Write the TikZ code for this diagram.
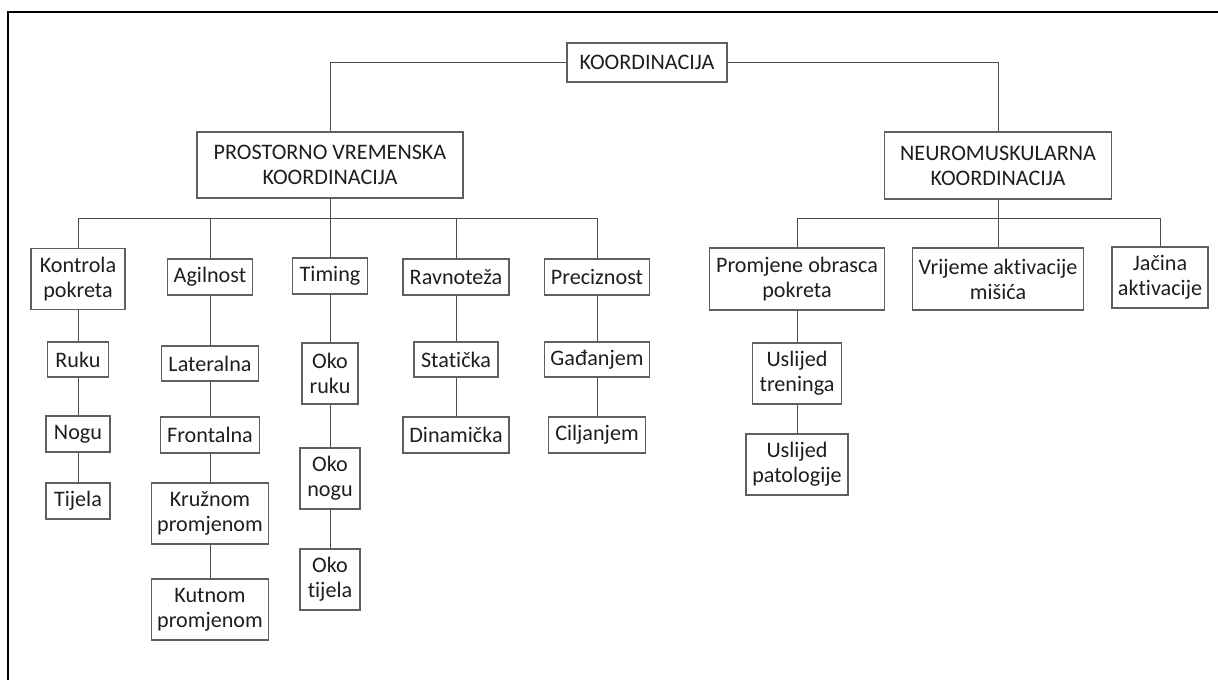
\documentclass[tikz,border=0pt]{standalone}
\usepackage{fontspec}
\setmainfont{Carlito}[Ligatures=NoCommon]

\definecolor{boxline}{RGB}{95,95,95}
\definecolor{wireline}{RGB}{75,75,75}
\definecolor{txt}{RGB}{30,30,30}

\tikzset{
    box/.style={draw=boxline, line width=0.8pt, text=txt, align=center, inner sep=0pt,
        font=\fontsize{12.6}{14.2}\selectfont},
    wire/.style={draw=wireline, line width=0.55pt},
}

\begin{document}
\begin{tikzpicture}[x=0.02cm, y=-0.02cm]
        \useasboundingbox (0,0) rectangle (1218,680);
        \draw[black, line width=1.1pt] (1218,12) -- (8,12) -- (8,680);

        \node[box, minimum width=3.2cm, minimum height=0.78cm] (koord) at (647,62.5) {KOORDINACIJA};

        \node[box, minimum width=5.32cm, minimum height=1.32cm] (pvk) at (330,165) {PROSTORNO VREMENSKA\\KOORDINACIJA};
        \node[box, minimum width=4.54cm, minimum height=1.34cm] (nk) at (998,165.5) {NEUROMUSKULARNA\\KOORDINACIJA};

        \node[box, minimum width=1.88cm, minimum height=1.22cm] (kontrola) at (78,279) {Kontrola\\pokreta};
        \node[box, minimum width=1.70cm, minimum height=0.72cm] (agilnost) at (210,277) {Agilnost};
        \node[box, minimum width=1.50cm, minimum height=0.72cm] (timing) at (330,276) {Timing};
        \node[box, minimum width=2.12cm, minimum height=0.72cm] (ravnoteza) at (456,277) {Ravnoteža};
        \node[box, minimum width=2.10cm, minimum height=0.72cm] (preciznost) at (597,277) {Preciznost};

        \node[box, minimum width=3.50cm, minimum height=1.24cm] (promjene) at (797,279) {Promjene obrasca\\pokreta};
        \node[box, minimum width=3.42cm, minimum height=1.24cm] (vrijeme) at (998,279) {Vrijeme aktivacije\\mišića};
        \node[box, minimum width=1.92cm, minimum height=1.22cm] (jacina) at (1160,277.5) {Jačina\\aktivacije};

        \node[box, minimum width=1.22cm, minimum height=0.70cm] (ruku) at (78,359.5) {Ruku};
        \node[box, minimum width=1.28cm, minimum height=0.72cm] (nogu) at (78,434) {Nogu};
        \node[box, minimum width=1.28cm, minimum height=0.72cm] (tijela) at (78,501) {Tijela};

        \node[box, minimum width=1.94cm, minimum height=0.70cm] (lateralna) at (210,363.5) {Lateralna};
        \node[box, minimum width=1.98cm, minimum height=0.72cm] (frontalna) at (210,435) {Frontalna};
        \node[box, minimum width=2.34cm, minimum height=1.22cm] (kruznom) at (210,513.5) {Kružnom\\promjenom};
        \node[box, minimum width=2.34cm, minimum height=1.22cm] (kutnom) at (210,609.5) {Kutnom\\promjenom};

        \node[box, minimum width=1.12cm, minimum height=1.22cm] (okoruku) at (330,373.5) {Oko\\ruku};
        \node[box, minimum width=1.20cm, minimum height=1.22cm] (okonogu) at (330,478.5) {Oko\\nogu};
        \node[box, minimum width=1.20cm, minimum height=1.22cm] (okotijela) at (330,579.5) {Oko\\tijela};

        \node[box, minimum width=1.68cm, minimum height=0.70cm] (staticka) at (456,359.5) {Statička};
        \node[box, minimum width=2.12cm, minimum height=0.72cm] (dinamicka) at (456,435) {Dinamička};

        \node[box, minimum width=2.10cm, minimum height=0.70cm] (gadanjem) at (597,359.5) {Gađanjem};
        \node[box, minimum width=1.94cm, minimum height=0.72cm] (ciljanjem) at (597,435) {Ciljanjem};

        \node[box, minimum width=1.78cm, minimum height=1.22cm] (treninga) at (797,373.5) {Uslijed\\treninga};
        \node[box, minimum width=2.04cm, minimum height=1.22cm] (patologije) at (797,464.5) {Uslijed\\patologije};

        \coordinate (pvkbar) at (330,218);
        \coordinate (nkbar) at (998,218);

        \draw[wire] (koord.west) -| (pvk.north);
        \draw[wire] (koord.east) -| (nk.north);

        \draw[wire] (pvk.south) -- (pvkbar);
        \draw[wire] (pvkbar) -| (kontrola.north);
        \draw[wire] (pvkbar) -| (agilnost.north);
        \draw[wire] (pvkbar) -| (timing.north);
        \draw[wire] (pvkbar) -| (ravnoteza.north);
        \draw[wire] (pvkbar) -| (preciznost.north);

        \draw[wire] (nk.south) -- (nkbar);
        \draw[wire] (nkbar) -| (promjene.north);
        \draw[wire] (nkbar) -| (vrijeme.north);
        \draw[wire] (nkbar) -| (jacina.north);

        \draw[wire] (kontrola.south) -- (ruku.north);
        \draw[wire] (ruku.south) -- (nogu.north);
        \draw[wire] (nogu.south) -- (tijela.north);

        \draw[wire] (agilnost.south) -- (lateralna.north);
        \draw[wire] (lateralna.south) -- (frontalna.north);
        \draw[wire] (frontalna.south) -- (kruznom.north);
        \draw[wire] (kruznom.south) -- (kutnom.north);

        \draw[wire] (timing.south) -- (okoruku.north);
        \draw[wire] (okoruku.south) -- (okonogu.north);
        \draw[wire] (okonogu.south) -- (okotijela.north);

        \draw[wire] (ravnoteza.south) -- (staticka.north);
        \draw[wire] (staticka.south) -- (dinamicka.north);

        \draw[wire] (preciznost.south) -- (gadanjem.north);
        \draw[wire] (gadanjem.south) -- (ciljanjem.north);

        \draw[wire] (promjene.south) -- (treninga.north);
        \draw[wire] (treninga.south) -- (patologije.north);

    \end{tikzpicture}
\end{document}
